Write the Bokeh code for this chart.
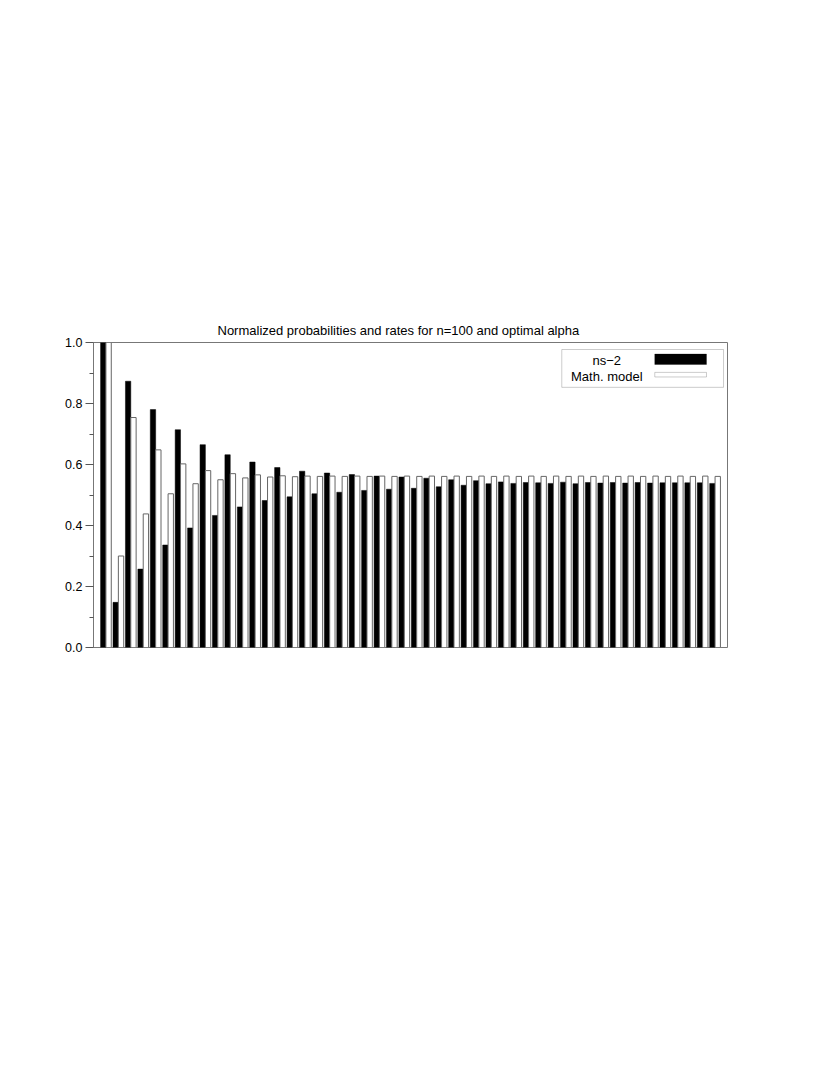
from bokeh.plotting import figure
from bokeh.models import Range1d, FixedTicker, BoxAnnotation, Label, ColumnDataSource
from bokeh.embed import file_html
from bokeh.resources import INLINE

# ---- data ----
pairs = list(range(1, 51))
ns2 = [1.0, 0.148, 0.873, 0.257, 0.780, 0.336, 0.714, 0.392, 0.665, 0.433,
       0.632, 0.461, 0.608, 0.482, 0.590, 0.494, 0.578, 0.504, 0.572, 0.509,
       0.567, 0.515, 0.562, 0.519, 0.559, 0.522, 0.555, 0.527, 0.550, 0.532,
       0.547, 0.537, 0.543, 0.538, 0.541, 0.540, 0.538, 0.542, 0.537, 0.541,
       0.539, 0.541, 0.539, 0.541, 0.539, 0.540, 0.540, 0.540, 0.540, 0.538]
model = [1.0, 0.300, 0.754, 0.438, 0.648, 0.504, 0.602, 0.537, 0.580, 0.550,
         0.570, 0.556, 0.566, 0.559, 0.563, 0.560, 0.562, 0.561, 0.562, 0.561,
         0.562, 0.561, 0.562, 0.561, 0.562, 0.561, 0.562, 0.561, 0.562, 0.561,
         0.562, 0.561, 0.562, 0.561, 0.562, 0.561, 0.562, 0.561, 0.562, 0.561,
         0.562, 0.561, 0.562, 0.561, 0.562, 0.561, 0.562, 0.561, 0.562, 0.561]
y_ticks = [0.0, 0.2, 0.4, 0.6, 0.8, 1.0]
y_minor = [0.1, 0.3, 0.5, 0.7, 0.9]
title_text = "Normalized probabilities and rates for n=100 and optimal alpha"
legend_labels = ["ns\u22122", "Math. model"]

FONT = "Liberation Sans"

src = ColumnDataSource(dict(
    xb=[x - 0.215 for x in pairs], xw=[x + 0.215 for x in pairs],
    ns2=ns2, model=model))

p = figure(output_backend="svg", toolbar_location=None,
           frame_width=634, frame_height=305,
           x_range=Range1d(0, 51), y_range=Range1d(0, 1),
           min_border_left=93, min_border_top=342, min_border_right=90,
           min_border_bottom=20, title=title_text)

p.title.text_font = FONT
p.title.text_font_size = "13px"
p.title.text_font_style = "normal"
p.title.align = "left"
p.title.offset = 124
p.title.text_color = "black"

p.vbar(x="xb", top="ns2", width=0.43, source=src, fill_color="black",
       line_color="black", line_width=0.5)
p.vbar(x="xw", top="model", width=0.43, source=src, fill_color="white",
       line_color="#666666", line_width=1)

p.xaxis.visible = False
p.xgrid.visible = False
p.ygrid.visible = False
p.outline_line_color = "#777777"
p.outline_line_width = 1

ya = p.yaxis[0]
ya.ticker = FixedTicker(ticks=y_ticks, minor_ticks=y_minor)
ya.major_label_overrides = {t: f"{t:.1f}" for t in y_ticks}
ya.major_label_text_font = FONT
ya.major_label_text_font_size = "12.5px"
ya.major_label_text_color = "black"
ya.axis_line_color = "#777777"
ya.major_tick_line_color = "#555555"
ya.minor_tick_line_color = "#555555"
ya.major_tick_out = 8
ya.major_tick_in = 0
ya.minor_tick_out = 4
ya.minor_tick_in = 0
ya.major_label_standoff = 3

# ---- legend (manual, label left of swatch) ----
p.add_layout(BoxAnnotation(left=37.67, right=50.68, bottom=0.853, top=0.977,
                           fill_color="white", fill_alpha=1.0,
                           line_color="#555555", line_width=1))
p.add_layout(BoxAnnotation(left=45.15, right=49.31, bottom=0.928, top=0.962,
                           fill_color="black", fill_alpha=1.0,
                           line_color="black", line_width=1))
p.add_layout(BoxAnnotation(left=45.15, right=49.31, bottom=0.887, top=0.902,
                           fill_color="white", fill_alpha=1.0,
                           line_color="#555555", line_width=1))
for lbl, yy in zip(legend_labels, [0.941, 0.889]):
    p.add_layout(Label(x=41.29, y=yy, text=lbl, text_align="center",
                       text_baseline="middle", text_font=FONT,
                       text_font_size="13px", text_color="black"))

open("out.html", "w").write(file_html(p, INLINE))
